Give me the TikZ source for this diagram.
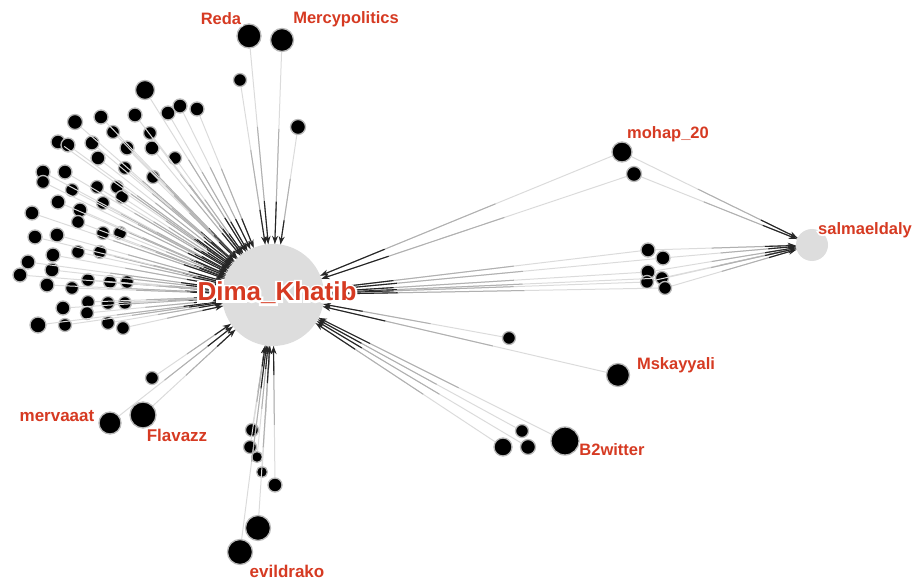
\documentclass[tikz,border=0pt]{standalone}
\usepackage{fontspec}
\setmainfont{Liberation Sans}
\newfontfamily\halobig{Liberation Sans Bold}[FakeBold=16]
\newfontfamily\halosmall{Liberation Sans Bold}[FakeBold=20]
\usetikzlibrary{arrows.meta,calc}
\definecolor{labred}{HTML}{D63A22}
\newcommand\edge[2]{%
  \draw[e1] (#1) -- (#2) coordinate[pos=0.4] (ea) coordinate[pos=0.78] (eb);
  \draw[e2] (ea) -- (#2);
  \draw[e3] (eb) -- (#2);}
% label with a white outline (single node)
\newcommand\lbl[5]{%
  \node[lab,font=\fontsize{#3}{#3}\selectfont,text=labred] (#1) at (#2)
    {\rlap{#5\color{white}#4}{\bfseries #4}};}
\def\leftdots{145/90/9.5, 75/122/7.5, 101/117/7, 135/115/7, 168/113/7, 180/106/7, 197/109/7,
 58/142/7, 68/145/7, 92/143/7, 113/132/6.5, 127/148/7, 150/133/6.5, 152/148/7, 98/158/7,
 175/158/6.5, 43/172/7, 43/182/6.5, 65/172/7, 125/168/6.5, 153/177/6.5, 97/187/6.5, 117/187/6.5,
 58/202/7, 72/190/6.5, 80/210/7, 78/222/6.5, 103/203/6.5, 122/197/6.5, 32/213/7, 35/237/7,
 57/235/7, 103/233/6.5, 120/233/6.5, 28/262/7, 20/275/7, 53/255/7, 78/252/6.5, 100/252/6.5,
 52/270/7, 47/285/7, 72/288/6.5, 88/280/6.5, 110/282/6.5, 127/282/6.5, 63/308/7, 88/302/6.5,
 108/303/6.5, 125/303/6.5, 38/325/8, 65/325/6.5, 108/323/6.5, 123/328/6.5, 87/313/6.5}
\def\otherdots{reda/249/36/12, merc/282/40/11.5, t1/240/80/6.5, t2/298/127/7.5,
 moh/622/152/10, m2/634/174/7.5,
 c1/648/250/7, c2/663/258/7, c3/648/272/7, c4/662/278/6.5, c5/665/288/6.5, c6/647/282/6.5,
 msk/618/375/11.5, s1/509/338/6.5,
 b2w/565/441/14, b1/503/447/9, b2/522/431/6.5, b3/528/447/7.5,
 flav/143/415/13, merv/110/423/11, f1/152/378/6.5,
 d1/252/430/6.5, d2/250/447/6.5, d3/257/457/5.5, d4/262/472/5.5, d5/275/485/7,
 ev1/258/528/12.5, ev2/240/552/12.5}
\begin{document}
\begin{tikzpicture}[x=1pt,y=-1pt,
  dot/.style={circle,fill=black,draw=gray!55,line width=1.3pt,inner sep=0pt},
  hub/.style={circle,fill=gray!27,inner sep=0pt},
  e1/.style={line width=1pt,gray!28},
  e2/.style={line width=1pt,gray!62},
  e3/.style={line width=1.1pt,black!85,-{Stealth[length=8pt,width=6pt]}},
  lab/.style={inner sep=0pt}]
\useasboundingbox (0,0) rectangle (922,583);
\node[hub,minimum size=102pt] (dk) at (273,295) {};
\node[hub,minimum size=32pt] (sa) at (812,245) {};
\foreach \x/\y/\r [count=\i] in \leftdots
  \node[dot,minimum size=2*\r] (L\i) at (\x,\y) {};
\foreach \n/\x/\y/\r in \otherdots
  \node[dot,minimum size=2*\r] (\n) at (\x,\y) {};
% edges to Dima_Khatib
\foreach \x/\y/\r [count=\i] in \leftdots
  {\edge{L\i}{dk}}
\foreach \n/\x/\y/\r in \otherdots
  {\edge{\n}{dk}}
% edges to salmaeldaly
\foreach \n in {moh,m2,c1,c2,c3,c4,c5,c6}
  {\edge{\n}{sa}}
% labels
\lbl{ldk}{277,293}{26}{Dima\_Khatib}{\halobig}
\lbl{lreda}{221,19}{16.5}{Reda}{\halosmall}
\lbl{lmerc}{346,19}{16.5}{Mercypolitics}{\halosmall}
\lbl{lmoh}{668,134}{16.5}{mohap\_20}{\halosmall}
\lbl{lsa}{865,230}{16.5}{salmaeldaly}{\halosmall}
\lbl{lmsk}{676,365}{16.5}{Mskayyali}{\halosmall}
\lbl{lb2w}{612,450}{16.5}{B2witter}{\halosmall}
\lbl{lmerv}{57,416}{17}{mervaaat}{\halosmall}
\lbl{lflav}{177,435}{17}{Flavazz}{\halosmall}
\lbl{lev}{287,571}{17}{evildrako}{\halosmall}
\end{tikzpicture}
\end{document}
